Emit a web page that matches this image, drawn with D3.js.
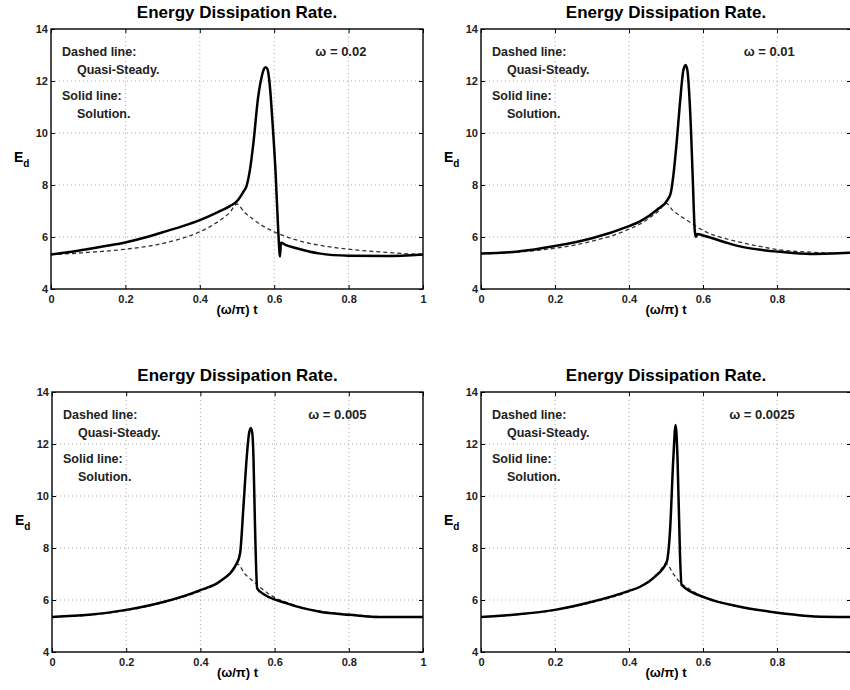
<!DOCTYPE html>
<html>
<head>
  <meta charset="UTF-8">
  <style>
    body { margin: 0; background: #fff; }
    svg { font-family: "Liberation Sans", Arial, Helvetica, sans-serif; }
    .grid line { stroke: #aaa; stroke-width: 1px; stroke-dasharray: 1,3; }
    .axis text { font-size: 11px; font-weight: bold; fill: #222; }
    .axis line { stroke: #000; }
    .note { font-size: 12.5px; font-weight: bold; fill: #222; }
  </style>
</head>
<body>
<svg></svg>
<script src="https://d3js.org/d3.v7.min.js"></script>

<script>

// axis values
let xTicks = [0, 0.2, 0.4, 0.6, 0.8, 1];
let xTickLabels = ["0", "0.2", "0.4", "0.6", "0.8", "1"];
let yTicks = [4, 6, 8, 10, 12, 14];
let omegaLabels = ["\u03c9 = 0.02", "\u03c9 = 0.01", "\u03c9 = 0.005", "\u03c9 = 0.0025"];

// quasi-steady curves (dashed), [(ω/π)t, Ed], as read in each panel
let quasi002 = [
  [0, 5.33], [0.05, 5.36], [0.1, 5.41], [0.15, 5.46], [0.2, 5.53], [0.25, 5.62],
  [0.3, 5.75], [0.35, 5.94], [0.4, 6.2], [0.43, 6.42], [0.46, 6.7], [0.48, 6.93],
  [0.5, 7.27], [0.52, 6.95], [0.54, 6.72], [0.57, 6.42], [0.6, 6.2], [0.65, 5.93],
  [0.7, 5.74], [0.75, 5.62], [0.8, 5.53], [0.85, 5.46], [0.9, 5.41], [0.95, 5.36], [1, 5.33]
];

let quasi001 = [
  [0, 5.36], [0.05, 5.38], [0.1, 5.42], [0.15, 5.48], [0.2, 5.57], [0.25, 5.68],
  [0.3, 5.84], [0.35, 6.03], [0.4, 6.3], [0.43, 6.5], [0.46, 6.78], [0.48, 7.0],
  [0.5, 7.3], [0.52, 7.0], [0.54, 6.8], [0.57, 6.52], [0.6, 6.25], [0.65, 5.98],
  [0.7, 5.8], [0.75, 5.65], [0.8, 5.52], [0.85, 5.45], [0.9, 5.41], [0.95, 5.38], [1, 5.38]
];

let quasi0005 = [
  [0, 5.35], [0.1, 5.42], [0.2, 5.6], [0.3, 5.9], [0.4, 6.35], [0.45, 6.68],
  [0.48, 7.05], [0.5, 7.38], [0.52, 7.0], [0.54, 6.75], [0.56, 6.5], [0.6, 6.1],
  [0.65, 5.82], [0.7, 5.62], [0.75, 5.52], [0.8, 5.45], [0.87, 5.37], [0.95, 5.35], [1, 5.35]
];

let quasi00025 = [
  [0, 5.35], [0.1, 5.44], [0.2, 5.61], [0.3, 5.91], [0.4, 6.33], [0.45, 6.68],
  [0.48, 7.05], [0.5, 7.4], [0.52, 7.0], [0.54, 6.65], [0.56, 6.45], [0.6, 6.12],
  [0.65, 5.9], [0.7, 5.73], [0.78, 5.55], [0.85, 5.43], [0.9, 5.37], [1, 5.35]
];

// solutions (solid)
let solution002 = [
  [0, 5.33], [0.05, 5.42], [0.1, 5.54], [0.15, 5.66], [0.2, 5.79], [0.25, 5.97],
  [0.3, 6.18], [0.35, 6.4], [0.4, 6.65], [0.45, 6.97], [0.48, 7.18], [0.5, 7.38],
  [0.517, 7.74], [0.526, 7.98], [0.535, 8.6], [0.544, 9.6], [0.557, 11.4], [0.567, 12.2],
  [0.572, 12.45], [0.577, 12.53], [0.582, 12.45], [0.587, 12.0], [0.596, 10.3],
  [0.604, 8.4], [0.611, 6.2], [0.6156, 5.25], [0.618, 5.78], [0.63, 5.7], [0.66, 5.57],
  [0.72, 5.37], [0.8, 5.28], [0.9, 5.27], [1, 5.33]
];

let solution001 = [
  [0, 5.37], [0.1, 5.44], [0.2, 5.65], [0.3, 5.95], [0.4, 6.42], [0.43, 6.6],
  [0.475, 7.04], [0.505, 7.45], [0.513, 7.7], [0.52, 8.38], [0.529, 9.67], [0.538, 11.2],
  [0.547, 12.42], [0.553, 12.62], [0.558, 12.4], [0.562, 11.7], [0.567, 10.3],
  [0.572, 8.38], [0.578, 6.2], [0.581, 6.01], [0.585, 6.12], [0.596, 6.08], [0.655, 5.82],
  [0.7, 5.64], [0.75, 5.52], [0.808, 5.43], [0.889, 5.35], [0.95, 5.37], [1, 5.4]
];

let solution0005 = [
  [0, 5.35], [0.1, 5.43], [0.2, 5.62], [0.3, 5.92], [0.4, 6.38], [0.453, 6.72],
  [0.498, 7.41], [0.507, 7.8], [0.516, 9.59], [0.525, 11.51], [0.531, 12.4],
  [0.536, 12.62], [0.54, 12.4], [0.543, 11.51], [0.547, 8.95], [0.553, 6.45],
  [0.561, 6.32], [0.633, 5.87], [0.722, 5.55], [0.803, 5.43], [0.87, 5.35], [1, 5.35]
];

let solution00025 = [
  [0, 5.35], [0.1, 5.45], [0.2, 5.62], [0.3, 5.93], [0.4, 6.35], [0.43, 6.51],
  [0.47, 6.9], [0.502, 7.47], [0.511, 8.69], [0.52, 11.51], [0.526, 12.73],
  [0.531, 11.51], [0.538, 7.67], [0.542, 6.58], [0.61, 6.07], [0.7, 5.74],
  [0.781, 5.55], [0.85, 5.43], [0.9, 5.37], [1, 5.35]
];

let quasis = [quasi002, quasi001, quasi0005, quasi00025];
let solutions = [solution002, solution001, solution0005, solution00025];

let width = 850, height = 690;

let svg = d3.select("svg")
    .attr("width", width)
    .attr("height", height);

// panel boxes
let panels = [
  {left: 51, top: 29, w: 372, h: 260},
  {left: 481, top: 29, w: 370, h: 260},
  {left: 52, top: 392, w: 371, h: 260},
  {left: 481, top: 392, w: 370, h: 260}
];

panels.forEach((p, i) => {
  let g = svg.append("g").attr("transform", `translate(${p.left},${p.top})`);

  let x = d3.scaleLinear().domain([0, 1]).range([0, p.w]);
  let y = d3.scaleLinear().domain([4, 14]).range([p.h, 0]);

  // dotted grid
  let grid = g.append("g").attr("class", "grid");
  grid.selectAll("line.v")
    .data(xTicks.slice(1, -1))
    .enter().append("line")
    .attr("x1", d => x(d)).attr("x2", d => x(d))
    .attr("y1", 0).attr("y2", p.h);
  grid.selectAll("line.h")
    .data(yTicks.slice(1, -1))
    .enter().append("line")
    .attr("x1", 0).attr("x2", p.w)
    .attr("y1", d => y(d)).attr("y2", d => y(d));

  // axes, ticks pointing inward; labels that fall off the page are dropped
  g.append("g").attr("class", "axis")
    .attr("transform", `translate(0,${p.h})`)
    .call(d3.axisBottom(x).tickValues(xTicks)
      .tickFormat((d, k) => (p.left + x(d) + 4 > width) ? "" : xTickLabels[k])
      .tickSize(-4).tickPadding(6));
  g.append("g").attr("class", "axis")
    .call(d3.axisLeft(y).tickValues(yTicks).tickSize(-4).tickPadding(3));
  g.append("g").attr("class", "axis")
    .call(d3.axisTop(x).tickValues(xTicks).tickFormat("").tickSize(-4));
  g.append("g").attr("class", "axis")
    .attr("transform", `translate(${p.w},0)`)
    .call(d3.axisRight(y).tickValues(yTicks).tickFormat("").tickSize(-4));
  g.selectAll(".axis .domain").remove();

  // lines
  let line = d3.line()
    .x(d => x(d[0]))
    .y(d => y(d[1]))
    .curve(d3.curveMonotoneX);

  g.append("path")
    .datum(quasis[i])
    .attr("d", line)
    .attr("fill", "none")
    .attr("stroke", "#333")
    .attr("stroke-width", 1.3)
    .attr("stroke-dasharray", "4,3");

  g.append("path")
    .datum(solutions[i])
    .attr("d", line)
    .attr("fill", "none")
    .attr("stroke", "#000")
    .attr("stroke-width", 2.5)
    .attr("stroke-linejoin", "round");

  // frame
  g.append("rect")
    .attr("width", p.w).attr("height", p.h)
    .attr("fill", "none")
    .attr("stroke", "#000")
    .attr("stroke-width", 1.4);

  // notes
  g.append("text").attr("class", "note").attr("x", 11).attr("y", 27).text("Dashed line:");
  g.append("text").attr("class", "note").attr("x", 26).attr("y", 45).text("Quasi-Steady.");
  g.append("text").attr("class", "note").attr("x", 11).attr("y", 71).text("Solid line:");
  g.append("text").attr("class", "note").attr("x", 26).attr("y", 89).text("Solution.");
  g.append("text")
    .attr("x", x(0.848)).attr("y", 27)
    .attr("text-anchor", "end")
    .style("font-size", "13px").style("font-weight", "bold").style("fill", "#222")
    .text(omegaLabels[i]);

  // title
  g.append("text")
    .attr("x", p.w / 2).attr("y", -11)
    .attr("text-anchor", "middle")
    .style("font-size", "17px").style("font-weight", "bold")
    .text("Energy Dissipation Rate.");

  // x label
  g.append("text")
    .attr("x", p.w / 2).attr("y", p.h + 25)
    .attr("text-anchor", "middle")
    .style("font-size", "13px").style("font-weight", "bold")
    .text("(\u03c9/\u03c0) t");

  // y label
  let yl = g.append("text")
    .attr("x", -37).attr("y", p.h / 2 + 3)
    .style("font-size", "14px").style("font-weight", "bold");
  yl.append("tspan").text("E");
  yl.append("tspan").attr("dy", 5).style("font-size", "10px").text("d");
});

</script>
</body>
</html>
